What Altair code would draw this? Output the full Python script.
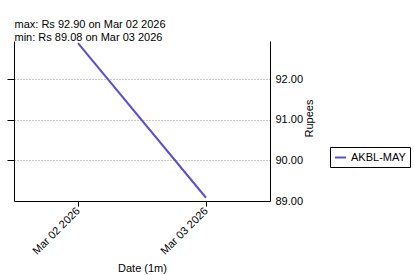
import altair as alt
import pandas as pd

dates = ["2026-03-02T00:00:00Z", "2026-03-03T00:00:00Z"]
prices = [92.90, 89.08]
series = ["AKBL-MAY", "AKBL-MAY"]
y_ticks = [89, 90, 91, 92]
grid_ticks = [90, 91, 92]
title_max = "max: Rs 92.90 on Mar 02 2026"
title_min = "min: Rs 89.08 on Mar 03 2026"

df = pd.DataFrame({"date": dates, "price": prices, "series": series})

FONT = "Liberation Sans"
LINE_COLOR = "#5a4fcf"

x_scale = alt.Scale(
    type="utc",
    domain=[
        alt.DateTime(year=2026, month=3, date=1, hours=12, utc=True),
        alt.DateTime(year=2026, month=3, date=3, hours=12, utc=True),
    ],
)

x_enc = alt.X(
    "date:T",
    scale=x_scale,
    axis=alt.Axis(
        title="Date (1m)",
        values=[
            alt.DateTime(year=2026, month=3, date=2, utc=True),
            alt.DateTime(year=2026, month=3, date=3, utc=True),
        ],
        labelExpr="utcFormat(datum.value, '%b %d %Y')",
        labelAngle=-45,
        labelAlign="right",
        labelBaseline="middle",
        labelPadding=3,
        labelColor="black",
        tickSize=5,
        tickColor="black",
        grid=False,
        titlePadding=6,
    ),
)

base = alt.Chart(df)

y_scale = alt.Scale(domain=[89, 92.95], nice=False, zero=False)

left_axis = base.mark_line(opacity=0).encode(
    x=x_enc,
    y=alt.Y(
        "price:Q",
        scale=y_scale,
        axis=alt.Axis(
            orient="left",
            title=None,
            labels=False,
            values=grid_ticks,
            tickSize=7,
            tickColor="black",
            grid=True,
            gridDash=[1, 2],
            gridColor="#999999",
        ),
    ),
)

line = base.mark_line(strokeWidth=2, clip=True).encode(
    x=x_enc,
    y=alt.Y(
        "price:Q",
        scale=y_scale,
        axis=alt.Axis(
            orient="right",
            title="Rupees",
            titleAngle=270,
            titleX=39,
            titleY=77,
            titleAlign="center",
            titleBaseline="middle",
            values=y_ticks,
            format=".2f",
            ticks=False,
            labelPadding=5,
            labelColor="black",
            grid=False,
        ),
    ),
    color=alt.Color(
        "series:N",
        scale=alt.Scale(range=[LINE_COLOR]),
        legend=alt.Legend(
            title=None,
            orient="none",
            legendX=316,
            legendY=106,
            strokeColor="black",
            padding=4,
            symbolType="stroke",
            symbolSize=121,
            symbolStrokeWidth=2,
            labelFontSize=11,
            labelFont=FONT,
            labelColor="black",
            labelOffset=4,
        ),
    ),
)

chart = (
    alt.layer(left_axis, line)
    .resolve_scale(y="shared")
    .resolve_axis(y="independent")
    .properties(
        width=256,
        height=160,
        autosize=alt.AutoSizeParams(type="none"),
        padding={"left": 14, "top": 41, "right": 144, "bottom": 74},
        title=alt.TitleParams(
            text=title_max,
            subtitle=title_min,
            anchor="start",
            dx=8,
            offset=-2,
            font=FONT,
            fontSize=11,
            fontWeight="normal",
            color="black",
            subtitleFont=FONT,
            subtitleFontSize=11,
            subtitleColor="black",
            subtitlePadding=2,
        ),
    )
    .configure_view(stroke=None)
    .configure_axis(
        domainColor="black",
        titleColor="black",
        labelFont=FONT,
        titleFont=FONT,
        labelFontSize=11,
        titleFontSize=11,
        titleFontWeight="normal",
    )
)

chart.save("out.html", embed_options={"renderer": "svg", "actions": False})
